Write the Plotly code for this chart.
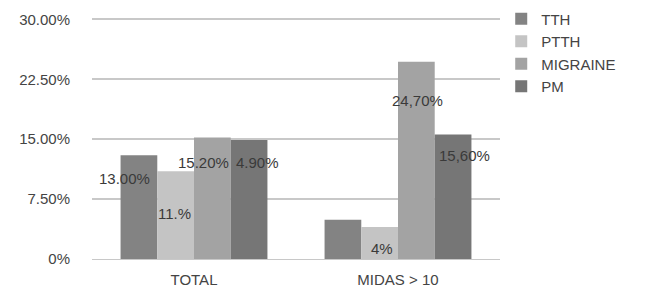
import plotly.graph_objects as go

categories = ["TOTAL", "MIDAS > 10"]
series_names = ["TTH", "PTTH", "MIGRAINE", "PM"]
tth = [13.0, 4.9]
ptth = [11.0, 4.0]
migraine = [15.2, 24.7]
pm = [14.9, 15.6]
labels_tth = ["13.00%", ""]
labels_ptth = ["11.%", "4%"]
labels_migraine = ["15.20%", "24,70%"]
labels_pm = ["4.90%", "15,60%"]
y_ticks = [0, 7.5, 15, 22.5, 30]
y_tick_labels = ["0%", "7.50%", "15.00%", "22.50%", "30.00%"]

colors = ["#838383", "#c4c4c4", "#a3a3a3", "#767676"]
values = [tth, ptth, migraine, pm]
labels = [labels_tth, labels_ptth, labels_migraine, labels_pm]

fig = go.Figure()
for name, vals, col in zip(series_names, values, colors):
    fig.add_trace(go.Bar(x=categories, y=vals, name=name, marker_color=col,
                         marker_line_width=0))

# label offsets (style): per series, per category (xshift, yshift in px from bar top centre)
offsets = [
    [(-14, -23), (0, 0)],
    [(-1, -42), (2, -21)],
    [(-9, -25), (1, -39)],
    [(8, -22), (11, -21)],
]
bar_w = 37
for si, (vals, labs) in enumerate(zip(values, labels)):
    for ci, (v, t) in enumerate(zip(vals, labs)):
        if not t:
            continue
        dx, dy = offsets[si][ci]
        fig.add_annotation(
            x=categories[ci], y=v, text=t, showarrow=False,
            xshift=(si - 1.5) * bar_w + dx, yshift=dy,
            xanchor="center", yanchor="middle",
            font=dict(family="Liberation Sans, Arial", size=15, color="#3a3a3a"),
        )

fig.update_layout(
    width=647, height=293,
    margin=dict(l=92, r=147, t=17, b=34, autoexpand=False),
    paper_bgcolor="white", plot_bgcolor="white",
    barmode="group", bargap=0.28, bargroupgap=0,
    font=dict(family="Liberation Sans, Arial", size=12, color="#444444"),
    showlegend=True,
    legend=dict(x=1.003, y=1.06, xanchor="left", yanchor="top",
                font=dict(size=15, color="#444444"), tracegroupgap=0,
                itemsizing="constant"),
    xaxis=dict(showgrid=False, showline=True, linecolor="#c8c8c8", linewidth=1,
               tickfont=dict(size=15), ticks="outside", ticklen=7, tickcolor="white"),
    yaxis=dict(range=[0, 30.3], tickvals=y_ticks, ticktext=y_tick_labels,
               showgrid=True, gridcolor="#c8c8c8", gridwidth=1.5, zeroline=False,
               showline=False, ticks="outside", ticklen=18, tickcolor="white",
               tickfont=dict(size=15)),
)

fig.write_html("out.html", config={"displayModeBar": False},
               post_script="document.body.style.margin='0px';")
